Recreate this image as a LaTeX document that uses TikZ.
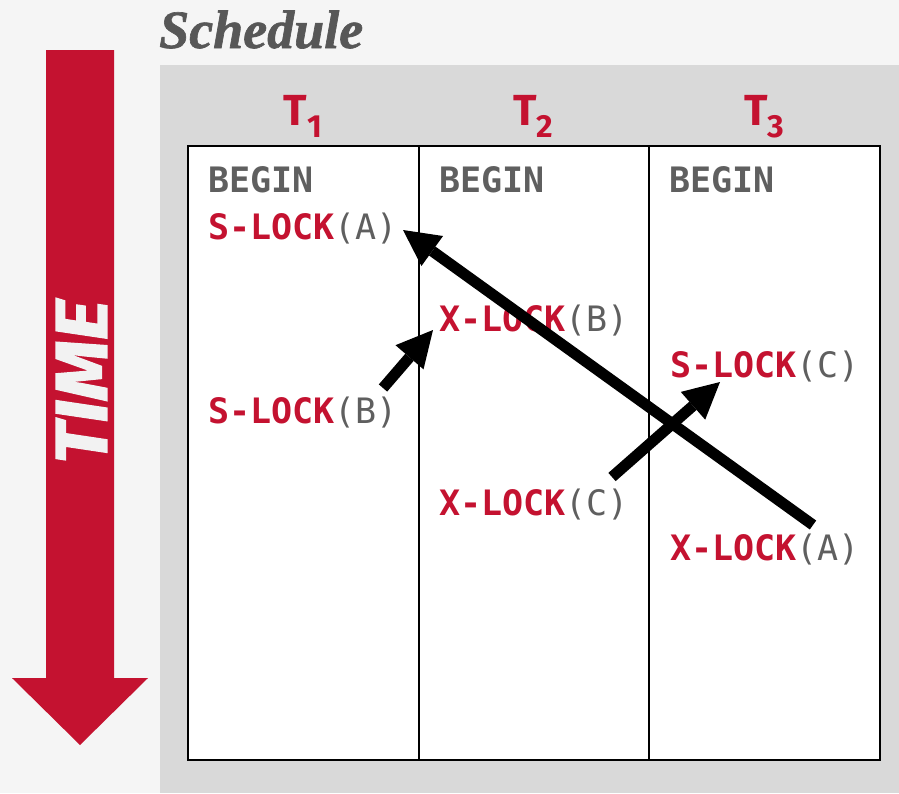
\documentclass[tikz,border=0pt]{standalone}
\usepackage{fontspec}
\usetikzlibrary{arrows.meta}
\newfontfamily\monofont{DejaVu Sans Mono}
\newfontfamily\firafont{Fira Sans}
\newfontfamily\timefont[FakeBold=2,FakeStretch=1.06]{Fira Sans}
\newfontfamily\titlefont[FakeBold=1.2]{Liberation Serif}
\definecolor{cmured}{HTML}{C41230}
\definecolor{txtgray}{HTML}{5F5F5F}
\definecolor{titlegray}{HTML}{575757}
\definecolor{pagebg}{HTML}{F5F5F5}
\definecolor{panelbg}{HTML}{D9D9D9}
\definecolor{timetxt}{HTML}{F2F2F2}
\newcommand\lockop[2]{\textcolor{cmured}{\bfseries #1}\textcolor{txtgray}{(#2)}}
\newcommand\tname[1]{T\raisebox{-12pt}{\fontsize{32}{32}\selectfont #1}}
\begin{document}
\begin{tikzpicture}[x=1pt,y=-1pt,
  column/.style={draw=black, line width=2pt, fill=white, minimum width=230.5pt, minimum height=614pt, anchor=north west, inner sep=0pt, outer sep=0pt},
  optext/.style={font=\monofont\fontsize{35}{35}\selectfont, anchor=base west, inner sep=0pt},
  beginop/.style={optext, text=txtgray, font=\monofont\bfseries\fontsize{35}{35}\selectfont},
  tlabel/.style={font=\firafont\bfseries\fontsize{43.5}{43.5}\selectfont, text=cmured, anchor=base, inner sep=0pt},
  lockarrow/.style={line width=11pt, -{Triangle[length=36pt,width=37pt,line width=0pt]}}
]
\fill[pagebg] (0,0) rectangle (899,793);
\useasboundingbox (0,0) rectangle (899,793);
\fill[panelbg] (160,65) rectangle (899,793);

% title
\node[font=\titlefont\bfseries\itshape\fontsize{54}{54}\selectfont, text=titlegray, anchor=base west, inner sep=0pt] (title) at (159,48) {Schedule};

% time arrow
\fill[cmured] (46,50) -- (114,50) -- (114,678) -- (148,678) -- (80,745) -- (12,678) -- (46,678) -- cycle;
\node[font=\timefont\bfseries\itshape\fontsize{73}{73}\selectfont, text=timetxt, rotate=90, inner sep=0pt] (time) at (81.5,382) {TIME};

% columns
\node[column] (c1) at (188,146) {};
\node[column] (c2) at (418.5,146) {};
\node[column] (c3) at (649,146) {};

% transaction labels
\node[tlabel] (t1) at (303,125) {\tname{1}};
\node[tlabel] (t2) at (533.5,125) {\tname{2}};
\node[tlabel] (t3) at (764.5,125) {\tname{3}};

% operations
\node[beginop] (b1) at (208,192) {BEGIN};
\node[beginop] (b2) at (439,192) {BEGIN};
\node[beginop] (b3) at (669,192) {BEGIN};
\node[optext] (sa) at (208,239) {\lockop{S-LOCK}{A}};
\node[optext] (xb) at (439,331) {\lockop{X-LOCK}{B}};
\node[optext] (sc) at (670,377) {\lockop{S-LOCK}{C}};
\node[optext] (sb) at (208,423) {\lockop{S-LOCK}{B}};
\node[optext] (xc) at (439,515) {\lockop{X-LOCK}{C}};
\node[optext] (xa) at (670,560) {\lockop{X-LOCK}{A}};

% arrow end points
\coordinate (a1s) at (813,525);
\coordinate (a1e) at (403,230);
\coordinate (a2s) at (383,388);
\coordinate (a2e) at (433,330);
\coordinate (a3s) at (612,477);
\coordinate (a3e) at (720,382);

\draw[lockarrow] (a1s) -- (a1e);
\draw[lockarrow] (a2s) -- (a2e);
\draw[lockarrow] (a3s) -- (a3e);
\end{tikzpicture}
\end{document}
